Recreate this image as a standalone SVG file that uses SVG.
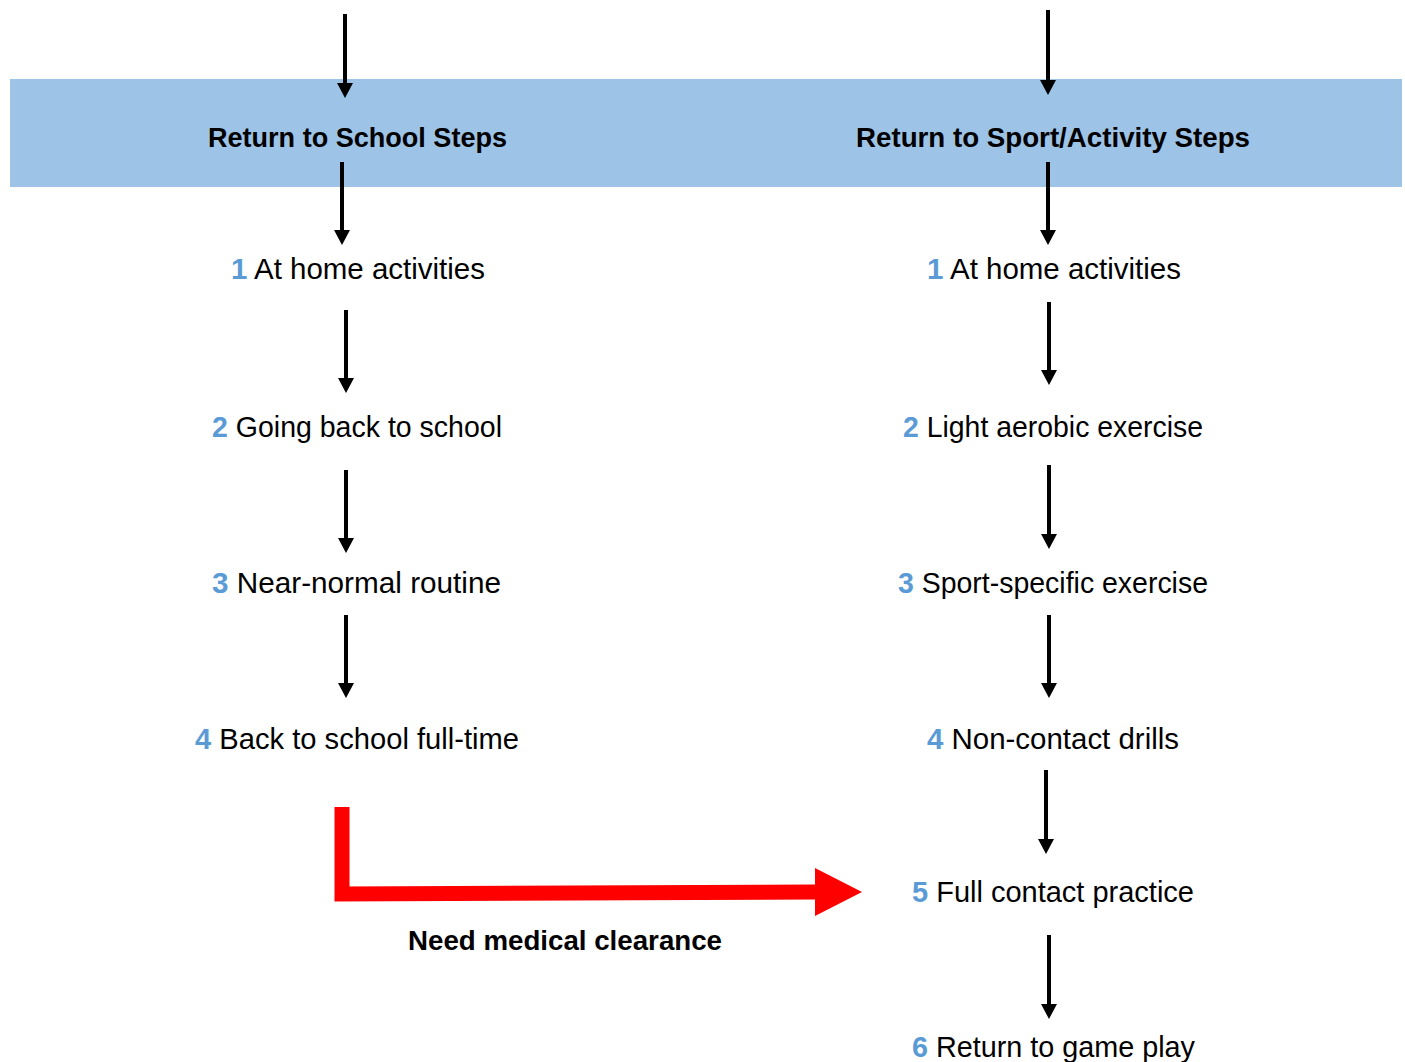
<svg xmlns="http://www.w3.org/2000/svg" width="1405" height="1062" viewBox="0 0 1405 1062">
<defs>
<marker id="ah" markerUnits="userSpaceOnUse" markerWidth="16" markerHeight="16" viewBox="0 0 15 16" refX="0" refY="8" orient="auto">
<polygon points="0,0 15,8 0,16" fill="#000"/>
</marker>
</defs>
<style>
.t{font-family:"Liberation Sans",Arial,sans-serif;font-size:29px;fill:#000}
.b{font-family:"Liberation Sans",Arial,sans-serif;font-size:27px;font-weight:bold;fill:#000}
.n{fill:#5B9BD5;font-weight:bold}
.c{stroke:#000;stroke-width:4;fill:none}
</style>
<rect width="1405" height="1062" fill="#fff"/>
<g id="band"><rect x="10" y="79" width="1392" height="108" fill="#9DC3E6"/></g>
<g id="connectors">
<line class="c" x1="345" y1="14" x2="345" y2="83" marker-end="url(#ah)"/>
<line class="c" x1="1048" y1="10" x2="1048" y2="80" marker-end="url(#ah)"/>
<line class="c" x1="342" y1="162" x2="342" y2="230" marker-end="url(#ah)"/>
<line class="c" x1="1048" y1="162" x2="1048" y2="230" marker-end="url(#ah)"/>
<line class="c" x1="346" y1="310" x2="346" y2="378" marker-end="url(#ah)"/>
<line class="c" x1="1049" y1="302" x2="1049" y2="370" marker-end="url(#ah)"/>
<line class="c" x1="346" y1="470" x2="346" y2="538" marker-end="url(#ah)"/>
<line class="c" x1="1049" y1="465" x2="1049" y2="534" marker-end="url(#ah)"/>
<line class="c" x1="346" y1="615" x2="346" y2="683" marker-end="url(#ah)"/>
<line class="c" x1="1049" y1="615" x2="1049" y2="683" marker-end="url(#ah)"/>
<line class="c" x1="1046" y1="770" x2="1046" y2="839" marker-end="url(#ah)"/>
<line class="c" x1="1049" y1="935" x2="1049" y2="1004" marker-end="url(#ah)"/>
<g id="clearance">
<polyline points="342,807 342,894 815,892" fill="none" stroke="#FF0000" stroke-width="15"/>
<polygon points="815,868 862,892 815,916" fill="#FF0000"/>
</g>
</g>
<g id="h-school"><text class="b" x="208" y="147" textLength="299" lengthAdjust="spacingAndGlyphs">Return to School Steps</text></g>
<g id="h-sport"><text class="b" x="856" y="147" textLength="394" lengthAdjust="spacingAndGlyphs">Return to Sport/Activity Steps</text></g>
<g id="s1"><text class="t" x="231" y="279" textLength="254" lengthAdjust="spacingAndGlyphs"><tspan class="n">1</tspan> At home activities</text></g>
<g id="s2"><text class="t" x="212" y="437" textLength="290" lengthAdjust="spacingAndGlyphs"><tspan class="n">2</tspan> Going back to school</text></g>
<g id="s3"><text class="t" x="212" y="593" textLength="289" lengthAdjust="spacingAndGlyphs"><tspan class="n">3</tspan> Near-normal routine</text></g>
<g id="s4"><text class="t" x="195" y="749" textLength="324" lengthAdjust="spacingAndGlyphs"><tspan class="n">4</tspan> Back to school full-time</text></g>
<g id="a1"><text class="t" x="927" y="279" textLength="254" lengthAdjust="spacingAndGlyphs"><tspan class="n">1</tspan> At home activities</text></g>
<g id="a2"><text class="t" x="903" y="437" textLength="300" lengthAdjust="spacingAndGlyphs"><tspan class="n">2</tspan> Light aerobic exercise</text></g>
<g id="a3"><text class="t" x="898" y="593" textLength="310" lengthAdjust="spacingAndGlyphs"><tspan class="n">3</tspan> Sport-specific exercise</text></g>
<g id="a4"><text class="t" x="927" y="749" textLength="252" lengthAdjust="spacingAndGlyphs"><tspan class="n">4</tspan> Non-contact drills</text></g>
<g id="a5"><text class="t" x="912" y="902" textLength="282" lengthAdjust="spacingAndGlyphs"><tspan class="n">5</tspan> Full contact practice</text></g>
<g id="a6"><text class="t" x="912" y="1057" textLength="283" lengthAdjust="spacingAndGlyphs"><tspan class="n">6</tspan> Return to game play</text></g>
<g id="clear-label"><text class="b" x="408" y="950" textLength="314" lengthAdjust="spacingAndGlyphs">Need medical clearance</text></g>
</svg>
